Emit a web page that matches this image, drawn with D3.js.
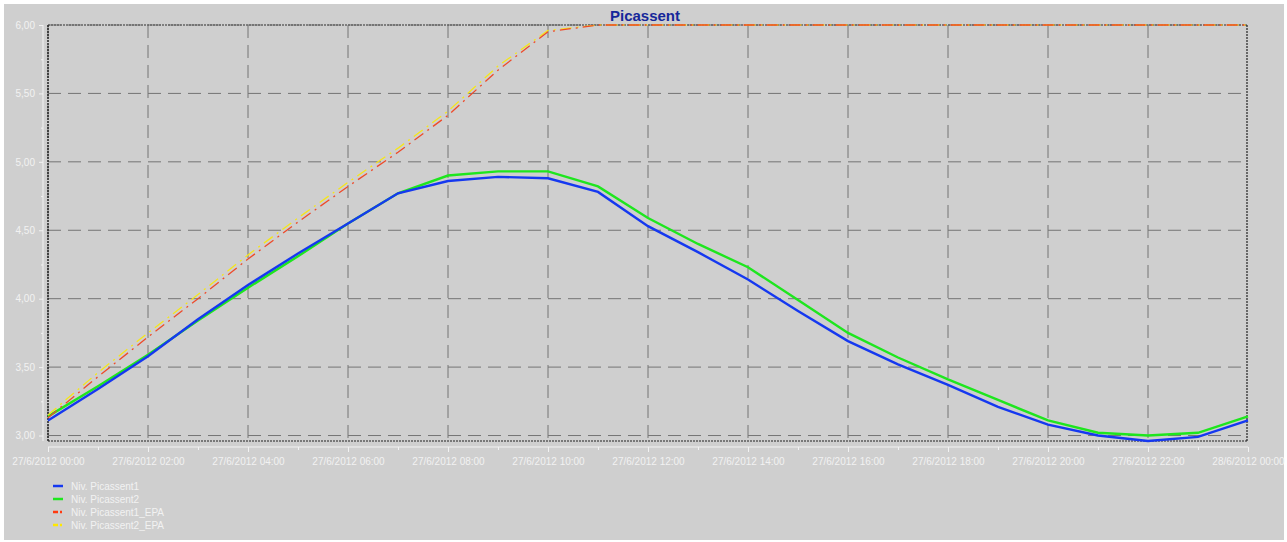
<!DOCTYPE html>
<html>
<head>
<meta charset="utf-8">
<style>
body { margin: 0; background: #fff; font-family: "Liberation Sans", Arial, sans-serif; }
svg { display: block; }
.axis text { fill: #f2f2f2; font-size: 10px; font-family: "Liberation Sans", Arial, sans-serif; }
.axis path, .axis line { stroke: #f2f2f2; }
.grid line { stroke: #747474; stroke-width: 1px; stroke-dasharray: 13,7; }
.legend text { fill: #f2f2f2; font-size: 10px; }
</style>
<title>Picassent</title>
<script src="https://cdn.jsdelivr.net/npm/d3@7"></script>
</head>
<body>
<script type="text/javascript">
// hourly readings, 27/6/2012 00:00 .. 28/6/2012 00:00
var hours = d3.range(0, 25);
var picassent1 = [3.11, 3.34, 3.58, 3.85, 4.10, 4.33, 4.55, 4.77, 4.86, 4.89, 4.88, 4.78, 4.53,
                  4.34, 4.14, 3.91, 3.69, 3.52, 3.37, 3.21, 3.08, 3.00, 2.96, 2.99, 3.11];
var picassent2 = [3.14, 3.36, 3.59, 3.84, 4.08, 4.31, 4.55, 4.77, 4.90, 4.93, 4.93, 4.82, 4.59,
                  4.40, 4.23, 3.99, 3.75, 3.57, 3.41, 3.26, 3.11, 3.02, 3.00, 3.02, 3.14];
var picassent1EPA = [3.13, 3.43, 3.72, 4.00, 4.29, 4.56, 4.82, 5.07, 5.34, 5.67, 5.95, 6.00, 6.00,
                     6.00, 6.00, 6.00, 6.00, 6.00, 6.00, 6.00, 6.00, 6.00, 6.00, 6.00, 6.00];
var picassent2EPA = [3.15, 3.46, 3.75, 4.03, 4.32, 4.59, 4.85, 5.10, 5.37, 5.70, 5.96, 6.00, 6.00,
                     6.00, 6.00, 6.00, 6.00, 6.00, 6.00, 6.00, 6.00, 6.00, 6.00, 6.00, 6.00];
var seriesNames = ["Niv. Picassent1", "Niv. Picassent2", "Niv. Picassent1_EPA", "Niv. Picassent2_EPA"];
var yTicks = [3.0, 3.5, 4.0, 4.5, 5.0, 5.5, 6.0];

var width = 1287, height = 542;
var plotLeft = 48, plotRight = 1248, plotTop = 25, plotBottom = 441;

var svg = d3.select("body").append("svg")
	.attr("width", width)
	.attr("height", height);

svg.append("rect")
	.attr("x", 4).attr("y", 4)
	.attr("width", width - 7).attr("height", height - 6)
	.attr("fill", "#cfcfcf");

var t0 = new Date(2012, 5, 27, 0);
var t1 = new Date(2012, 5, 28, 0);
var toDate = function(h) { return d3.timeHour.offset(t0, h); };

var x = d3.scaleTime().domain([t0, t1]).range([plotLeft, plotRight]);
var y = d3.scaleLinear().domain([2.96, 6.0]).range([plotBottom, plotTop]);

var fmtX = d3.timeFormat("%-d/%-m/%Y %H:%M");
var fmtY = function(d) { return d3.format(".2f")(d).replace(".", ","); };

// grid
var grid = svg.append("g").attr("class", "grid");
grid.selectAll("line.h").data(yTicks).enter().append("line")
	.attr("class", "h")
	.attr("x1", plotLeft).attr("x2", plotRight)
	.attr("y1", function(d) { return y(d); })
	.attr("y2", function(d) { return y(d); });
grid.selectAll("line.v").data(d3.timeHour.every(2).range(t0, t1)).enter().append("line")
	.attr("class", "v")
	.attr("y1", plotTop).attr("y2", plotBottom)
	.attr("x1", function(d) { return x(d); })
	.attr("x2", function(d) { return x(d); });

// frame
svg.append("line").attr("x1", plotLeft).attr("x2", plotRight).attr("y1", plotTop).attr("y2", plotTop)
	.attr("stroke", "#666").attr("stroke-width", 1.5).attr("stroke-dasharray", "2,1");
svg.append("line").attr("x1", plotLeft).attr("x2", plotRight).attr("y1", plotBottom).attr("y2", plotBottom)
	.attr("stroke", "#222").attr("stroke-width", 1.2).attr("stroke-dasharray", "2,1");
svg.append("line").attr("x1", plotLeft).attr("x2", plotLeft).attr("y1", plotTop).attr("y2", plotBottom)
	.attr("stroke", "#222").attr("stroke-width", 1.5).attr("stroke-dasharray", "2,1");
svg.append("line").attr("x1", plotRight - 1).attr("x2", plotRight - 1).attr("y1", plotTop).attr("y2", plotBottom)
	.attr("stroke", "#222").attr("stroke-width", 1.2).attr("stroke-dasharray", "2,1");

// axes
var yAxis = svg.append("g").attr("class", "axis")
	.attr("transform", "translate(" + (plotLeft - 5) + ",0)")
	.call(d3.axisLeft(y).tickValues(yTicks).tickFormat(fmtY).tickSize(4).tickPadding(4));
yAxis.select(".domain").attr("d", "M0," + plotTop + "V" + plotBottom);
svg.append("g").attr("class", "axis")
	.attr("transform", "translate(" + (plotLeft - 5) + ",0)")
	.call(d3.axisLeft(y).tickValues(d3.range(3.25, 6, 0.5)).tickFormat("").tickSize(2))
	.select(".domain").remove();

var xAxis = svg.append("g").attr("class", "axis")
	.attr("transform", "translate(0," + (plotBottom + 6) + ")")
	.call(d3.axisBottom(x).ticks(d3.timeHour.every(2)).tickFormat(fmtX).tickSize(5).tickPadding(6));
xAxis.select(".domain").attr("d", "M" + plotLeft + ",0H" + plotRight);
svg.append("g").attr("class", "axis")
	.attr("transform", "translate(0," + (plotBottom + 6) + ")")
	.call(d3.axisBottom(x).tickValues(d3.timeHour.range(t0, t1).filter(function(d, i) { return i % 2; }))
		.tickFormat("").tickSize(3))
	.select(".domain").remove();

// series
var line = d3.line()
	.x(function(d) { return x(toDate(d[0])); })
	.y(function(d) { return y(d[1]); });
var pairs = function(vals) { return hours.map(function(h, i) { return [h, vals[i]]; }); };

var series = [
	{ name: seriesNames[1], values: picassent2, color: "#1ee61e", width: 2.4, dash: null },
	{ name: seriesNames[0], values: picassent1, color: "#1538f0", width: 2.4, dash: null },
	{ name: seriesNames[3], values: picassent2EPA, color: "#f5e61a", width: 1.3, dash: "11,5,2,5" },
	{ name: seriesNames[2], values: picassent1EPA, color: "#ee4a2a", width: 1.3, dash: "11,5,2,5" }
];

svg.append("g").selectAll("path").data(series).enter().append("path")
	.attr("d", function(d) { return line(pairs(d.values)); })
	.attr("fill", "none")
	.attr("stroke", function(d) { return d.color; })
	.attr("stroke-width", function(d) { return d.width; })
	.attr("stroke-dasharray", function(d) { return d.dash; });

// title
svg.append("text")
	.attr("x", 645).attr("y", 21)
	.attr("text-anchor", "middle")
	.attr("font-size", "15px").attr("font-weight", "bold")
	.attr("fill", "#16279a")
	.text("Picassent");

// legend
var legendColors = ["#1538f0", "#1ee61e", "#ff3a10", "#ffe800"];
var legend = svg.append("g").attr("class", "legend")
	.attr("transform", "translate(53,486)");
var item = legend.selectAll("g").data(seriesNames).enter().append("g")
	.attr("transform", function(d, i) { return "translate(0," + (i * 13) + ")"; });
item.append("line")
	.attr("x1", 0).attr("x2", 10)
	.attr("stroke", function(d, i) { return legendColors[i]; })
	.attr("stroke-width", 2.5)
	.attr("stroke-dasharray", function(d, i) { return i > 1 ? "5,2,2,2" : null; });
item.append("text")
	.attr("x", 18).attr("dy", "0.35em")
	.text(function(d) { return d; });
</script>
</body>
</html>
